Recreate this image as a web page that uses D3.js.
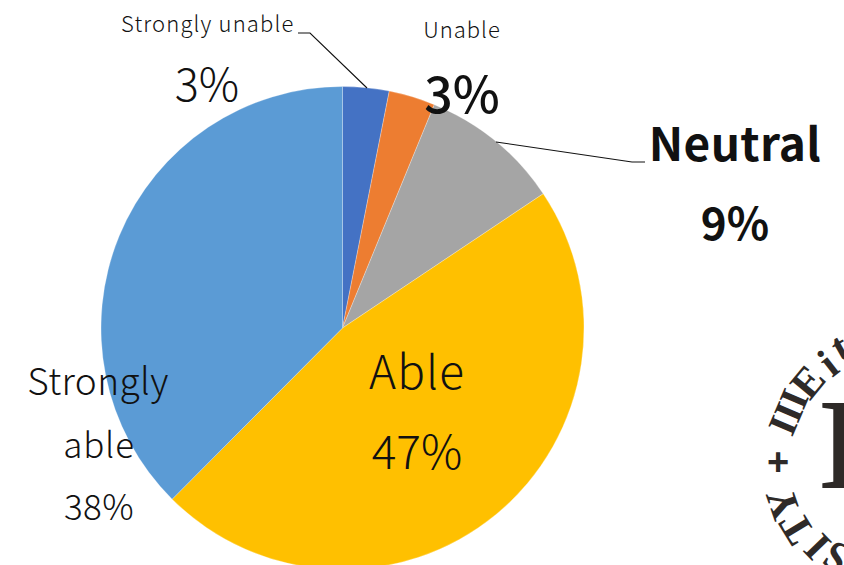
<!DOCTYPE html>
<html><head><meta charset="utf-8">
<script src="https://cdn.jsdelivr.net/npm/d3@7"></script>
<style>
html,body{margin:0;padding:0;background:#fff;overflow:hidden}
svg{display:block}
text{font-family:"Noto Sans CJK JP","Noto Sans",sans-serif;fill:#111}
</style></head><body>
<svg id="c" width="844" height="565"></svg>
<script>
const categories=["Strongly unable","Unable","Neutral","Able","Strongly able"];
const values=[3.1,3.1,9.4,46.8,37.5];
const colors=["#4472c4","#ed7d31","#a5a5a5","#ffc000","#5b9bd5"];
const labelLines=[
 ["Strongly unable",121,32,22,300,"start",1.15],
 ["3%",207,101,45,300,"middle",0],
 ["Unable",462,38,22,300,"middle",1],
 ["3%",462,113,50,500,"middle",0],
 ["Neutral",735,161,46,700,"middle",0.3],
 ["9%",735,240,44,700,"middle",0],
 ["Able",417,389,46,300,"middle",1],
 ["47%",417,469,46,300,"middle",0],
 ["Strongly",98,395,37,300,"middle",0.4],
 ["able",99,458,35,300,"middle",0.8],
 ["38%",99,520,35,300,"middle",0.4]
];
const leaders=[
 [[298,33],[310,33],[367,88]],
 [[496,142],[632,162],[645,162]]
];
const sealGlyphs=[["III",203,127,40],["E",219.5,126,42],["i",232,125,42],["t",240.5,132,42],["Y",161,129,42],["T",148.6,127,42],["I",136,122,42],["S",125.6,117,42]];

const svg=d3.select("#c");
const cx=342.5,cy=328,r=241.5;
const pie=d3.pie().sort(null).value(d=>d)(values);
const arc=d3.arc().innerRadius(0).outerRadius(r);
svg.append("g").attr("transform",`translate(${cx},${cy})`)
 .selectAll("path").data(pie).join("path")
 .attr("d",arc).attr("fill",(d,i)=>colors[i]).attr("stroke","#fff").attr("stroke-opacity",.35).attr("stroke-width",.75);

svg.selectAll("path.leader").data(leaders).join("path").attr("class","leader")
 .attr("d",d3.line()).attr("fill","none").attr("stroke","#111").attr("stroke-width",1.1);

// seal fragment cut by the right edge
const sealColor="#2e2a28";
const serif="'Liberation Serif',serif";
const seal=svg.append("g").attr("transform","translate(905,462)");
seal.selectAll("text.g").data(sealGlyphs).join("text").attr("class","g")
 .text(d=>d[0])
 .attr("transform",d=>{
   const a=d[1]*Math.PI/180;
   return `translate(${d[2]*Math.cos(a)},${d[2]*Math.sin(a)}) rotate(${d[1]+90})`;
 })
 .attr("text-anchor","middle").attr("dominant-baseline","central")
 .style("font-family",serif).style("font-weight",700)
 .style("font-size",d=>d[3]+"px").style("letter-spacing",d=>d[0]==="III"?"-1px":null)
 .style("fill",sealColor);
seal.append("text").text("+").attr("x",-127).attr("y",0)
 .attr("text-anchor","middle").attr("dominant-baseline","central")
 .style("font-family","'Liberation Sans',sans-serif").style("font-weight",700).style("font-size","38px").style("fill",sealColor);
seal.append("text").text("I").attr("x",-87).attr("y",26)
 .style("font-family",serif).style("font-weight",700).style("font-size","130px").style("fill",sealColor);

svg.append("g").selectAll("text").data(labelLines).join("text")
 .text(d=>d[0]).attr("x",d=>d[1]).attr("y",d=>d[2])
 .attr("text-anchor",d=>d[5])
 .style("font-size",d=>d[3]+"px").style("font-weight",d=>d[4])
 .style("letter-spacing",d=>d[6]+"px");
</script></body></html>
